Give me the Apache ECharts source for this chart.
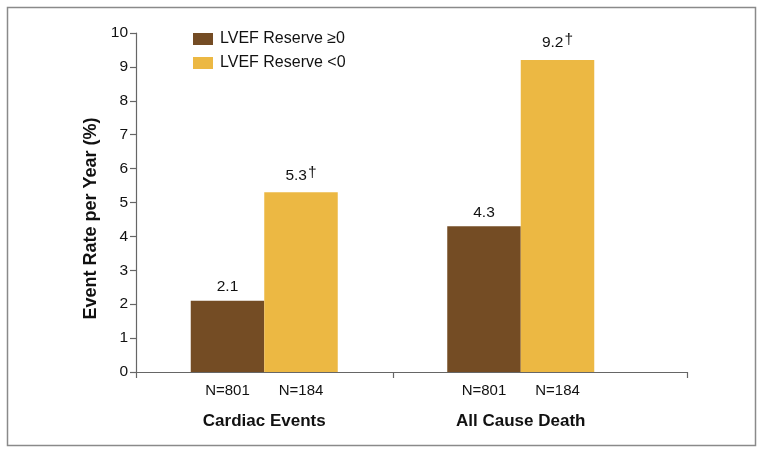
<!DOCTYPE html>
<html>
<head>
<meta charset="utf-8">
<script src="https://cdn.jsdelivr.net/npm/echarts@6/dist/echarts.min.js"></script>
<style>html,body{margin:0;padding:0;background:#fff;}#c{width:764px;height:454px;}</style>
</head>
<body>
<div id="c"></div>
<script>
const categories = ['Cardiac Events', 'All Cause Death'];
const seriesNames = ['LVEF Reserve \u22650', 'LVEF Reserve <0'];
const reserveGE0 = [2.1, 4.3];
const reserveLT0 = [5.3, 9.2];
const marksGE0 = ['', ''];
const marksLT0 = ['\u2020', '\u2020'];
const nGE0 = [801, 801];
const nLT0 = [184, 184];
const yTicks = [0, 1, 2, 3, 4, 5, 6, 7, 8, 9, 10];

const FONT = '"Liberation Sans", Arial, Helvetica, sans-serif';
const chart = echarts.init(document.getElementById('c'), null, {renderer: 'canvas'});

function barLabel(marks) {
  return {
    show: true,
    position: 'top',
    distance: 6,
    formatter: p => '{v|' + p.value + '}' + (marks[p.dataIndex] ? '{d|' + marks[p.dataIndex] + '}' : ''),
    rich: {
      v: {fontSize: 15.5, color: '#111', fontFamily: FONT},
      d: {fontSize: 15.5, color: '#111', fontFamily: FONT, padding: [0, 0, 6, 1]}
    }
  };
}

const bgCats = new Array(15).fill('');

chart.setOption({
  animation: false,
  textStyle: {fontFamily: FONT},
  graphic: [{
    type: 'rect',
    shape: {x: 7.5, y: 7.5, width: 748, height: 438},
    style: {fill: 'none', stroke: '#8a8a8a', lineWidth: 1.5},
    silent: true
  }],
  legend: {
    orient: 'vertical',
    left: 193,
    top: 31,
    padding: 0,
    itemWidth: 20,
    itemHeight: 12,
    itemGap: 8,
    icon: 'rect',
    textStyle: {fontSize: 16, color: '#111', fontFamily: FONT, padding: [0, 0, 0, 2]},
    data: seriesNames
  },
  grid: [
    {left: 136, width: 513, top: 33, bottom: 82},
    {left: 136, right: 77, top: 33, bottom: 82}
  ],
  xAxis: [
    {
      type: 'category',
      gridIndex: 0,
      data: categories,
      axisLine: {show: false},
      axisTick: {show: false},
      axisLabel: {
        margin: 9,
        formatter: (v, i) => '{n|N=' + nGE0[i] + '}{sp|}{n|N=' + nLT0[i] + '}\n{c|' + v + '}',
        rich: {
          n: {fontSize: 15, color: '#111', fontFamily: FONT, lineHeight: 20},
          sp: {width: 29},
          c: {fontSize: 17, fontWeight: 'bold', color: '#111', fontFamily: FONT, lineHeight: 40}
        }
      }
    },
    {
      type: 'category',
      gridIndex: 1,
      data: bgCats,
      axisLine: {show: true, lineStyle: {color: '#666', width: 1.2}},
      axisTick: {show: true, length: 6, interval: (idx) => idx === 0 || idx === 7, lineStyle: {color: '#666', width: 1.2}},
      axisLabel: {show: false}
    }
  ],
  yAxis: [
    {type: 'value', gridIndex: 0, min: 0, max: 10, interval: 1, show: false},
    {
      type: 'value',
      gridIndex: 1,
      min: yTicks[0],
      max: yTicks[yTicks.length - 1],
      interval: 1,
      name: 'Event Rate per Year (%)',
      nameLocation: 'middle',
      nameGap: 31,
      nameTextStyle: {fontSize: 18, fontWeight: 'bold', color: '#111', fontFamily: FONT, padding: [0, 32, 0, 0]},
      axisLine: {show: true, lineStyle: {color: '#666', width: 1.2}},
      axisTick: {show: true, length: 6, lineStyle: {color: '#666', width: 1.2}},
      axisLabel: {fontSize: 15.5, color: '#111', fontFamily: FONT, margin: 8},
      splitLine: {show: false}
    }
  ],
  series: [
    {
      name: seriesNames[0],
      type: 'bar',
      xAxisIndex: 0,
      yAxisIndex: 0,
      data: reserveGE0,
      barWidth: 73.5,
      barGap: '0%',
      itemStyle: {color: '#744c24'},
      label: barLabel(marksGE0)
    },
    {
      name: seriesNames[1],
      type: 'bar',
      xAxisIndex: 0,
      yAxisIndex: 0,
      data: reserveLT0,
      barWidth: 73.5,
      barGap: '0%',
      itemStyle: {color: '#ecb843'},
      label: barLabel(marksLT0)
    }
  ]
});
</script>
</body>
</html>
